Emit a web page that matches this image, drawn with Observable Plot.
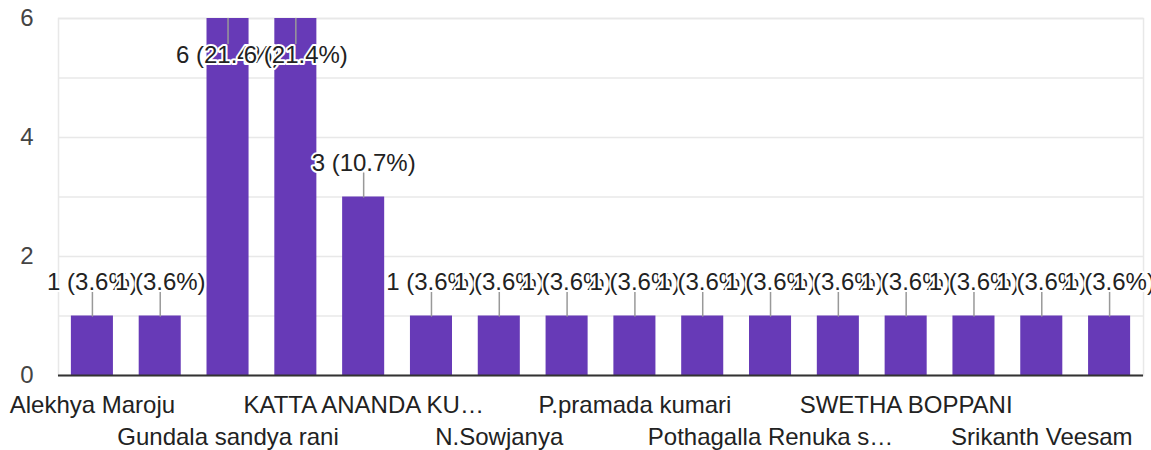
<!DOCTYPE html>
<html>
<head>
<meta charset="utf-8">
<script src="https://cdn.jsdelivr.net/npm/d3@7"></script>
<script src="https://cdn.jsdelivr.net/npm/@observablehq/plot@0.6"></script>
<style>
  html, body { margin: 0; padding: 0; background: #fff; }
  #chart svg { display: block; }
</style>
</head>
<body>
<div id="chart"></div>
<script>
// Category names (only every other name is printed on the axis in the reference)
const names = [
  "Alekhya Maroju", "", "Gundala sandya rani", "", "KATTA ANANDA KU…", "",
  "N.Sowjanya", "", "P.pramada kumari", "", "Pothagalla Renuka s…", "",
  "SWETHA BOPPANI", "", "Srikanth Veesam", ""
];
// Response counts per category
const counts = [1, 1, 6, 6, 3, 1, 1, 1, 1, 1, 1, 1, 1, 1, 1, 1];
// Axis tick values
const yTicks = [0, 2, 4, 6];
const gridTicks = [0, 1, 2, 3, 4, 5, 6];
const xTicksRow1 = [0, 4, 8, 12];
const xTicksRow2 = [2, 6, 10, 14];

const total = d3.sum(counts);
const data = counts.map((c, i) => ({
  i,
  name: names[i],
  count: c,
  label: `${c} (${(c / total * 100).toFixed(1)}%)`
}));
const yMax = 6;
const inside = d => d.count > yMax - 0.6;
const outside = d => !inside(d);

const lineShape = {
  draw(context, l) { context.moveTo(0, 0); context.lineTo(0, -l); }
};

const font = "'Liberation Sans', Arial, Helvetica, sans-serif";
const fs = 24;

const chart = Plot.plot({
  width: 1151,
  height: 450,
  marginLeft: 58,
  marginRight: 8,
  marginTop: 18,
  marginBottom: 75,
  style: { fontFamily: font, fontSize: fs + "px", background: "#fff" },
  x: { type: "band", domain: d3.range(counts.length), paddingInner: 0.38, paddingOuter: 0.19, round: false },
  y: { domain: [0, yMax], label: null },
  marks: [
    Plot.gridY(gridTicks, { stroke: "#e8e8e8", strokeOpacity: 1, strokeWidth: 1.5 }),
    Plot.frame({ stroke: "#e8e8e8", strokeWidth: 1.5 }),
    Plot.axisY({ ticks: yTicks, tickSize: 0, tickPadding: 25, fontSize: fs, color: "#444",
                 tickFormat: d3.format("d"), label: null }),
    Plot.axisX({ ticks: xTicksRow1, tickSize: 0, tickPadding: 20, fontSize: fs, color: "#222",
                 lineAnchor: "top", tickFormat: i => names[i], label: null }),
    Plot.axisX({ ticks: xTicksRow2, tickSize: 0, tickPadding: 52, fontSize: fs, color: "#222",
                 lineAnchor: "top", tickFormat: i => names[i], label: null }),
    Plot.barY(data, { x: "i", y: "count", fill: "#673ab7" }),
    Plot.ruleY([0], { stroke: "#333", strokeWidth: 2 }),
    Plot.vector(data.filter(outside), { x: "i", y: "count", length: 24, rotate: 0, anchor: "start",
      shape: lineShape, stroke: "#999", strokeWidth: 1.5 }),
    Plot.vector(data.filter(inside), { x: "i", y: "count", length: 25, rotate: 180, anchor: "start",
      shape: lineShape, stroke: "#999", strokeWidth: 1.5 }),
    Plot.text(data, { x: "i", y: "count", text: "label",
      fontSize: fs, fill: "#222", stroke: "white", strokeWidth: 4, paintOrder: "stroke",
      lineAnchor: "middle", filter: outside, dy: -34 }),
    Plot.text(data, { x: "i", y: "count", text: "label",
      fontSize: fs, fill: "#222", stroke: "white", strokeWidth: 4, paintOrder: "stroke",
      lineAnchor: "middle", filter: inside, dy: 37 })
  ]
});
document.getElementById("chart").appendChild(chart);
</script>
</body>
</html>
